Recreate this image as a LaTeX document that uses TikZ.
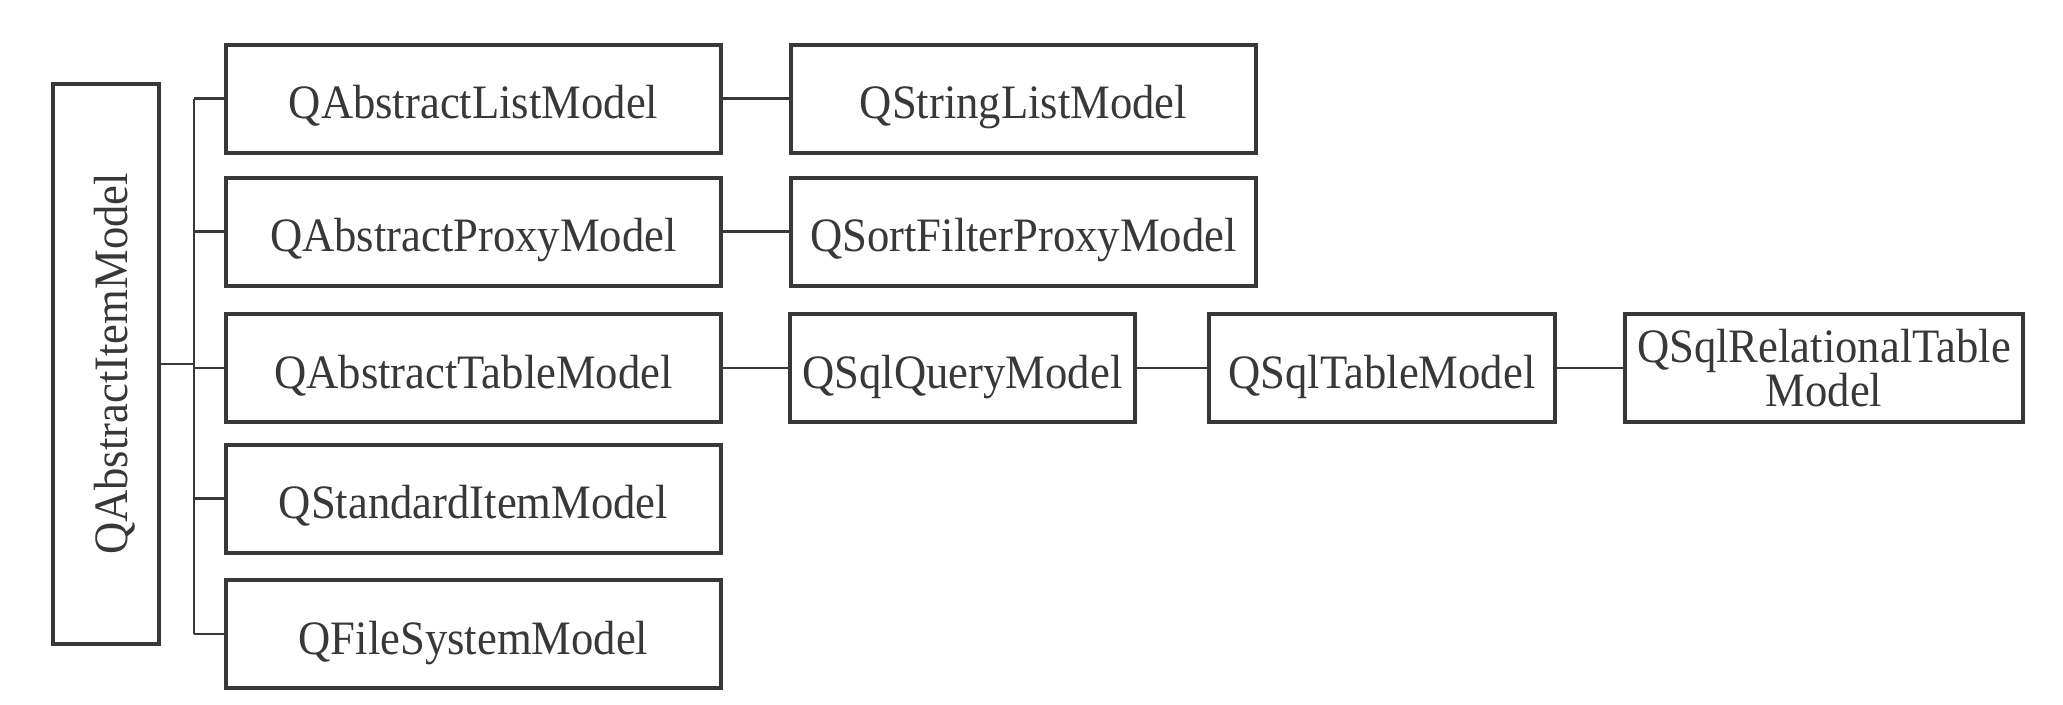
\documentclass[tikz,border=0pt]{standalone}
\usepackage{fontspec}
\setmainfont{Liberation Serif}[FakeStretch=0.93]
\definecolor{ink}{HTML}{383838}
\begin{document}
\begin{tikzpicture}[x=1pt,y=-1pt,
  box/.style={draw=ink,line width=4pt,rectangle,inner sep=0pt,text=ink,
    font=\fontsize{48}{42}\selectfont,text depth=0pt,minimum height=108pt},
  onebox/.style={box,text height=40pt},
  col1/.style={onebox,minimum width=495pt},
  col2/.style={onebox,minimum width=465pt},
  link/.style={draw=ink,line width=2.2pt}]
\useasboundingbox (0,0) rectangle (2063,704);
\node[box,minimum width=106pt,minimum height=560pt] (main) at (106,364) {};
\node[text=ink,font=\fontsize{48}{42}\selectfont,text depth=0pt,rotate=90,inner sep=0pt] (mainlabel) at (111,364) {QAbstractItemModel};
\node[col1] (alm) at (473.5,98.5) {QAbstractListModel};
\node[col1] (apm) at (473.5,231.5) {QAbstractProxyModel};
\node[col1] (atm) at (473.5,368) {QAbstractTableModel};
\node[col1] (sim) at (473.5,498.5) {QStandardItemModel};
\node[col1] (fsm) at (473.5,634) {QFileSystemModel};
\node[col2] (slm) at (1023.5,98.5) {QStringListModel};
\node[col2] (sfp) at (1023.5,231.5) {QSortFilterProxyModel};
\node[onebox,minimum width=345pt] (sqm) at (962.5,368) {QSqlQueryModel};
\node[onebox,minimum width=346pt] (stm) at (1382,368) {QSqlTableModel};
\node[box,minimum width=398pt,align=center] (srm) at (1824,368) {QSqlRelationalTable\\Model};
\coordinate (bus) at (194,0);
\draw[link] (bus |- alm.west) -- (bus |- fsm.west);
\foreach \n in {alm,apm,atm,sim,fsm}{
  \draw[link] (bus |- \n.west) -- (\n.west);
}
\draw[link] (main.east) -- (main.east -| bus);
\draw[link] (alm.east) -- (slm.west);
\draw[link] (apm.east) -- (sfp.west);
\draw[link] (atm.east) -- (sqm.west);
\draw[link] (sqm.east) -- (stm.west);
\draw[link] (stm.east) -- (srm.west);
\end{tikzpicture}
\end{document}
